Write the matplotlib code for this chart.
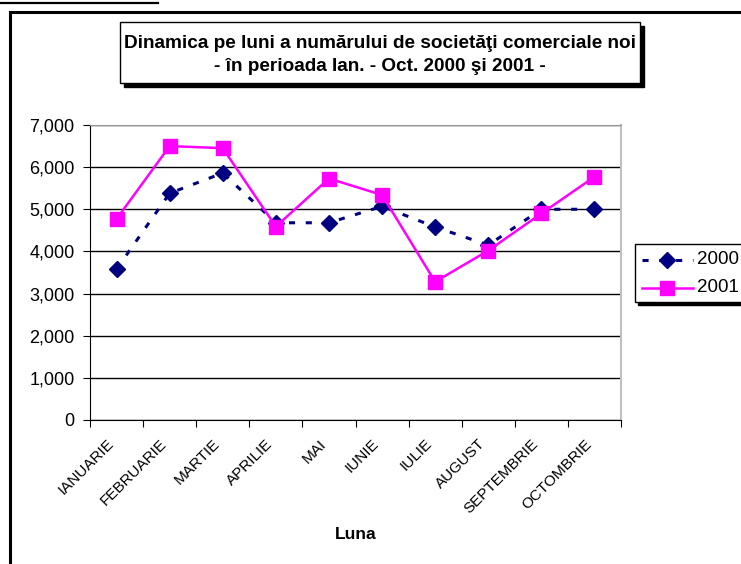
import numpy as np
import matplotlib
matplotlib.use('Agg')
import matplotlib.pyplot as plt
import matplotlib.transforms as mtransforms
from matplotlib.patches import Rectangle
from matplotlib.lines import Line2D

plt.rcParams['font.family'] = ['Liberation Sans', 'DejaVu Sans']

# Data
months = ['IANUARIE', 'FEBRUARIE', 'MARTIE', 'APRILIE', 'MAI',
          'IUNIE', 'IULIE', 'AUGUST', 'SEPTEMBRIE', 'OCTOMBRIE']
y2000 = [3580, 5380, 5860, 4680, 4680, 5070, 4580, 4150, 5000, 5000]
y2001 = [4770, 6500, 6450, 4590, 5730, 5340, 3280, 4020, 4900, 5770]

W, H = 741, 564
fig = plt.figure(figsize=(W / 100, H / 100), dpi=100)

def fx(px):
    return px / W

def fy(py):
    return 1 - py / H

# document frame lines
fig.add_artist(Line2D([fx(10), fx(10)], [fy(12), fy(564)], color='black', lw=2.2))
fig.add_artist(Line2D([fx(10), fx(741)], [fy(12), fy(12)], color='black', lw=2.2))
fig.add_artist(Line2D([fx(0), fx(158)], [fy(3), fy(3)], color='black', lw=1.6))

ax = fig.add_axes([fx(90), fy(420), fx(621) - fx(90), fy(125) - fy(420)])
x = np.arange(len(months))
ax.plot(x, y2000, color='#000080', ls=(0, (2.0, 3.5)), lw=2.2,
        marker='D', markersize=8, label='2000')
ax.plot(x, y2001, color='#ff00ff', ls='-', lw=1.8,
        marker='s', markersize=10, label='2001')

ax.set_xlim(-0.5, len(months) - 0.5)
ax.set_ylim(0, 7000)
ax.set_yticks(np.arange(0, 7001, 1000))
ax.set_yticklabels([f'{v:,}' for v in range(0, 7001, 1000)], fontsize=13)
ax.yaxis.grid(True, color='black', lw=1)
ax.set_axisbelow(True)
ax.set_xticks(np.arange(-0.5, len(months), 1.0))
ax.set_xticklabels([])
ax.set_xticks(x, minor=True)
ax.set_xticklabels(months, minor=True, rotation=45, ha='right',
                   rotation_mode='anchor', fontsize=11)
ax.tick_params(axis='x', which='minor', length=0, pad=12)
ax.tick_params(axis='x', which='major', length=5, direction='out')
ax.tick_params(axis='y', length=5, direction='out', pad=6)
shift = mtransforms.ScaledTranslation(-10 / 100, 0, fig.dpi_scale_trans)
for lbl in ax.get_xticklabels(minor=True):
    lbl.set_transform(lbl.get_transform() + shift)
ax.spines['top'].set_color('#999999')
ax.spines['right'].set_color('#c0c0c0')
ax.spines['right'].set_linewidth(1.5)
ax.set_xlabel('Luna', fontsize=12.5, fontweight='bold', labelpad=8)

# title box with shadow
tx0, tx1, ty0, ty1 = 120, 640, 22, 83
fig.add_artist(Rectangle((fx(tx0 + 4), fy(ty1 + 4)), fx(tx1 - tx0), fy(ty0) - fy(ty1),
                         facecolor='black', edgecolor='black'))
fig.add_artist(Rectangle((fx(tx0), fy(ty1)), fx(tx1 - tx0), fy(ty0) - fy(ty1),
                         facecolor='white', edgecolor='black', lw=1))
fig.text(fx((tx0 + tx1) / 2), fy(55),
         'Dinamica pe luni a numărului de societăţi comerciale noi\n- în perioada Ian. - Oct. 2000 şi 2001 -',
         ha='center', va='center', fontsize=13.7, fontweight='bold', linespacing=1.47)

# legend box with shadow
lx0, lx1, ly0, ly1 = 635, 745, 244, 302
fig.add_artist(Rectangle((fx(lx0 + 3), fy(ly1 + 3)), fx(lx1 - lx0), fy(ly0) - fy(ly1),
                         facecolor='black', edgecolor='black'))
fig.add_artist(Rectangle((fx(lx0), fy(ly1)), fx(lx1 - lx0), fy(ly0) - fy(ly1),
                         facecolor='white', edgecolor='black', lw=1))
fig.add_artist(Line2D([fx(642), fx(693)], [fy(260), fy(260)], color='#000080',
                      ls=(0, (2.0, 3.5)), lw=2.2))
fig.add_artist(Line2D([fx(667)], [fy(260)], color='#000080', marker='D', markersize=8))
fig.add_artist(Line2D([fx(642), fx(693)], [fy(288), fy(288)], color='#ff00ff', lw=1.8))
fig.add_artist(Line2D([fx(667)], [fy(288)], color='#ff00ff', marker='s', markersize=10))
fig.text(fx(697), fy(260), '2000', ha='left', va='center', fontsize=13.5)
fig.text(fx(697), fy(288), '2001', ha='left', va='center', fontsize=13.5)

fig.savefig('out.png', dpi=100)
